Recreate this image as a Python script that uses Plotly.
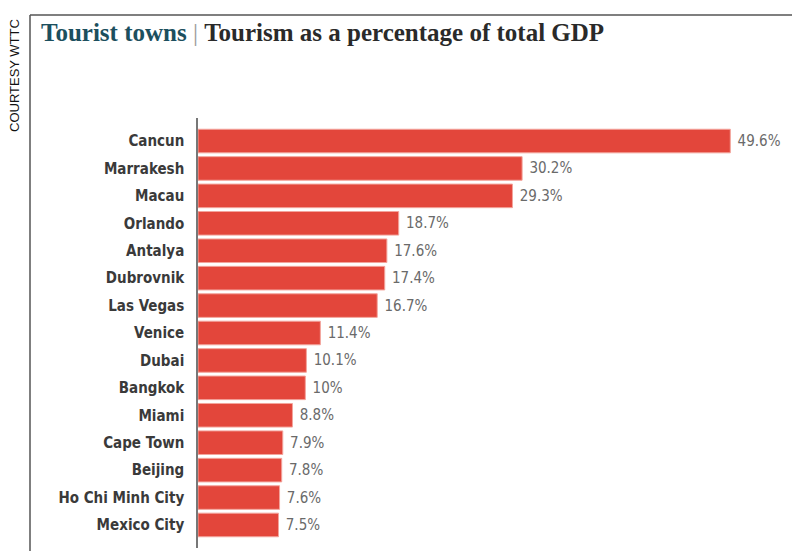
import plotly.graph_objects as go

cities = ["Cancun", "Marrakesh", "Macau", "Orlando", "Antalya", "Dubrovnik", "Las Vegas",
          "Venice", "Dubai", "Bangkok", "Miami", "Cape Town", "Beijing", "Ho Chi Minh City", "Mexico City"]
values = [49.6, 30.2, 29.3, 18.7, 17.6, 17.4, 16.7, 11.4, 10.1, 10.0, 8.8, 7.9, 7.8, 7.6, 7.5]
labels = ["49.6%", "30.2%", "29.3%", "18.7%", "17.6%", "17.4%", "16.7%", "11.4%", "10.1%", "10%",
          "8.8%", "7.9%", "7.8%", "7.6%", "7.5%"]

OFF = 8  # page body margin
W, H = 800 - OFF, 551 - OFF
ML, MR, MT, MB = 198 - OFF, 1, 118 - OFF, 3
PW, PH = W - ML - MR, H - MT - MB

def px(x):
    return (x - OFF - ML) / PW

def py(y):
    return 1 - (y - OFF - MT) / PH

fig = go.Figure(go.Bar(
    x=values, y=cities, orientation="h",
    marker=dict(color="#e3463b", line=dict(color="#f3a49c", width=1)),
    text=labels, texttemplate="\u00a0%{text}", textposition="outside", cliponaxis=False,
    textfont=dict(family="DejaVu Sans Condensed, Roboto", size=15, color="#6a6a6a"),
    width=0.86,
))

fig.update_layout(
    width=W, height=H,
    margin=dict(l=ML, r=MR, t=MT, b=MB),
    paper_bgcolor="white", plot_bgcolor="white",
    showlegend=False,
    xaxis=dict(range=[0, 56], visible=False, fixedrange=True),
    yaxis=dict(categoryorder="array", categoryarray=cities, range=[14.84, -0.84],
               showline=True, linecolor="#777", linewidth=1.5, showgrid=False,
               ticks="", ticklabelstandoff=9,
               tickfont=dict(family="DejaVu Sans Condensed, Roboto", size=15, color="#3a3a3a",
                             weight="bold")),
    shapes=[
        dict(type="line", xref="paper", yref="paper", x0=px(30), x1=px(800), y0=py(15), y1=py(15),
             line=dict(color="#555", width=1.5)),
        dict(type="line", xref="paper", yref="paper", x0=px(30), x1=px(30), y0=py(15), y1=py(551),
             line=dict(color="#555", width=1.5)),
    ],
    annotations=[
        dict(xref="paper", yref="paper", x=px(39), y=py(32), xanchor="left", yanchor="middle",
             showarrow=False,
             text="<b><span style='color:#1c4f5e'>Tourist towns</span></b>"
                  "<span style='color:#999'> | </span>"
                  "<b><span style='color:#2a2a2a'>Tourism as a percentage of total GDP</span></b>",
             font=dict(family="Liberation Serif, serif", size=25)),
        dict(xref="paper", yref="paper", x=px(15), y=py(76), xanchor="center", yanchor="middle",
             showarrow=False, textangle=-90, text="COURTESY WTTC",
             font=dict(family="Liberation Sans, Arial", size=13, color="#111")),
    ],
)

fig.write_html("out.html")
